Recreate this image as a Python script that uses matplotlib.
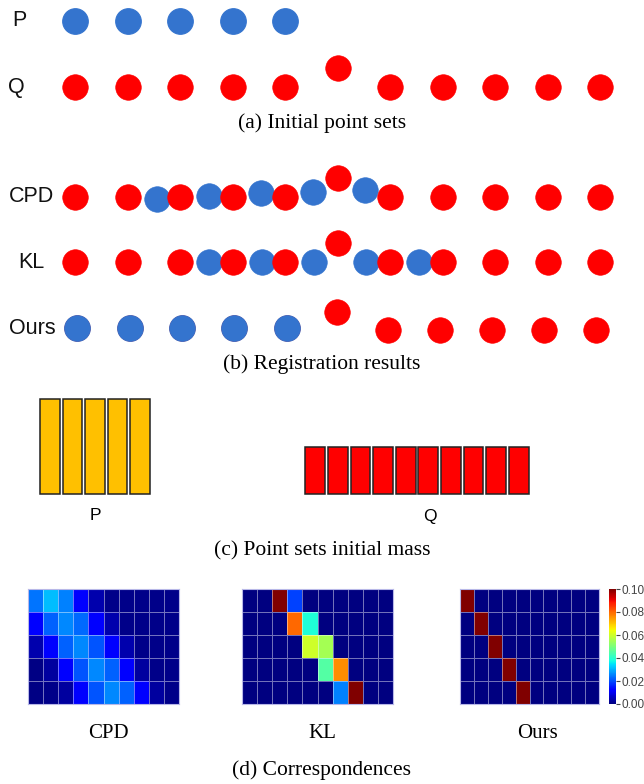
import numpy as np
import matplotlib
matplotlib.use("Agg")
import matplotlib.pyplot as plt

# ---------------- data ----------------
# (a) initial point sets (x positions in units of Q spacing, dy = vertical offset)
p_init_x = [0, 1, 2, 3, 4]
q_init_x = [0, 1, 2, 3, 4, 5, 6, 7, 8, 9, 10]
q_init_dy = [0, 0, 0, 0, 0, 0.36, 0, 0, 0, 0, 0]

# (b) registration results: positions of P (blue) after registration
cpd_p_x = [1.57, 2.55, 3.54, 4.53, 5.52]
cpd_p_dy = [-0.04, 0.02, 0.08, 0.10, 0.13]
kl_p_x = [2.55, 3.56, 4.55, 5.54, 6.55]
kl_p_dy = [0, 0, 0, 0, 0]
ours_p_x = [0.04, 1.05, 2.04, 3.03, 4.04]
ours_p_dy = [0, 0, 0, 0, 0]
ours_q_x = [0.04, 1.05, 2.04, 3.03, 4.04, 4.99, 5.96, 6.95, 7.95, 8.94, 9.93]
ours_q_dy = [0, 0, 0, 0, 0, 0.30, -0.04, -0.04, -0.04, -0.04, -0.04]

row_labels = ["P", "Q", "CPD", "KL", "Ours"]

# (c) initial masses
p_mass = [0.2, 0.2, 0.2, 0.2, 0.2]
q_mass = [0.1] * 10

# (d) correspondence matrices (5 x 10)
cpd_corr = [
    [0.024, 0.031, 0.025, 0.012, 0.004, 0.001, 0.001, 0.001, 0.001, 0.001],
    [0.011, 0.022, 0.026, 0.023, 0.012, 0.004, 0.001, 0.001, 0.001, 0.001],
    [0.004, 0.012, 0.022, 0.026, 0.021, 0.012, 0.004, 0.001, 0.001, 0.001],
    [0.0005, 0.003, 0.012, 0.021, 0.026, 0.022, 0.012, 0.003, 0.001, 0.001],
    [0.0005, 0.001, 0.003, 0.012, 0.021, 0.026, 0.022, 0.012, 0.003, 0.001],
]
kl_corr = [
    [0, 0, 0.100, 0.019, 0, 0, 0, 0, 0, 0],
    [0, 0, 0, 0.080, 0.039, 0, 0, 0, 0, 0],
    [0, 0, 0, 0, 0.060, 0.055, 0, 0, 0, 0],
    [0, 0, 0, 0, 0, 0.045, 0.076, 0, 0, 0],
    [0, 0, 0, 0, 0, 0, 0.025, 0.100, 0, 0],
]
ours_corr = [
    [0.1, 0, 0, 0, 0, 0, 0, 0, 0, 0],
    [0, 0.1, 0, 0, 0, 0, 0, 0, 0, 0],
    [0, 0, 0.1, 0, 0, 0, 0, 0, 0, 0],
    [0, 0, 0, 0.1, 0, 0, 0, 0, 0, 0],
    [0, 0, 0, 0, 0.1, 0, 0, 0, 0, 0],
]
corr_names = ["CPD", "KL", "Ours"]
cbar_ticks = [0.00, 0.02, 0.04, 0.06, 0.08, 0.10]

captions = ["(a) Initial point sets", "(b) Registration results",
            "(c) Point sets initial mass", "(d) Correspondences"]

# ---------------- style ----------------
W, H = 644, 784
BLUE = "#3474CE"
RED = "#FF0000"
YEL = "#FFC000"
SANS = ["Liberation Sans", "DejaVu Sans"]
SERIF = ["Liberation Serif", "DejaVu Serif"]

fig = plt.figure(figsize=(W / 100, H / 100), dpi=100)


def box(x0, y0, x1, y1):
    return [x0 / W, 1 - y1 / H, (x1 - x0) / W, (y1 - y0) / H]


# ---------------- points (a) + (b) ----------------
unit = 52.5
x0px = 75
ax = fig.add_axes(box(0, 0, W, 350))
ax.set_xlim(-x0px / unit, (W - x0px) / unit)
ax.set_ylim(0.4 - 350 / unit, 0.4)
ax.axis("off")

row_y = {"P": 0.0, "Q": -66 / unit, "CPD": -176 / unit, "KL": -241 / unit, "Ours": -307 / unit}
label_x = {"P": 19, "Q": 16, "CPD": 31, "KL": 31, "Ours": 32}
S = 340


def draw_row(name, qx, qdy, px, pdy, red_on_top=False):
    y = row_y[name]
    zq, zp = (4, 3) if red_on_top else (2, 3)
    if qx is not None:
        ax.scatter(qx, [y + d for d in qdy], s=S, c=RED, edgecolors=RED,
                   linewidths=0.4, zorder=zq)
    if px is not None:
        ax.scatter(px, [y + d for d in pdy], s=S, c=BLUE, edgecolors=BLUE,
                   linewidths=0.8 if not red_on_top else 0.4, zorder=zp)


draw_row("P", None, None, p_init_x, [0] * len(p_init_x))
draw_row("Q", q_init_x, q_init_dy, None, None)
draw_row("CPD", q_init_x, q_init_dy, cpd_p_x, cpd_p_dy, red_on_top=True)
draw_row("KL", q_init_x, q_init_dy, kl_p_x, kl_p_dy, red_on_top=True)
draw_row("Ours", ours_q_x, ours_q_dy, ours_p_x, ours_p_dy)

for name in row_labels:
    ax.text((label_x[name] - x0px) / unit, row_y[name], name, ha="center", va="center",
            fontsize=15.5, family=SANS, color="#111111")

# ---------------- bars (c) ----------------
axp = fig.add_axes(box(39, 399, 151, 494))
axq = fig.add_axes(box(304, 399, 530, 494))
for a, m, col in [(axp, p_mass, YEL), (axq, q_mass, RED)]:
    bars = a.bar(range(len(m)), m, width=0.88, color=col, edgecolor="#222222", linewidth=1.1)
    for b in bars:
        b.set_clip_on(False)
    a.set_xlim(-0.5, len(m) - 0.5)
    a.set_ylim(0, 0.2)
    a.axis("off")
fig.text(95 / W, 1 - 515 / H, "P", ha="center", va="center", fontsize=12.5, family=SANS)
fig.text(430 / W, 1 - 517 / H, "Q", ha="center", va="center", fontsize=12.5, family=SANS)

# ---------------- heatmaps (d) ----------------
hm_boxes = [(28, 589, 179, 704), (242, 589, 393, 704), (460, 589, 599, 704)]
hm_label_x = [108, 322, 537]
im = None
for mat, name, bx, lx in zip([cpd_corr, kl_corr, ours_corr], corr_names, hm_boxes, hm_label_x):
    a = fig.add_axes(box(*bx))
    arr = np.array(mat)
    im = a.pcolormesh(arr, cmap="jet", vmin=0, vmax=0.1,
                      edgecolors=(1, 1, 1, 0.45), linewidth=0.7)
    a.set_xlim(0, arr.shape[1])
    a.set_ylim(arr.shape[0], 0)
    a.set_xticks([])
    a.set_yticks([])
    for sp in a.spines.values():
        sp.set_color("#b8b8e8")
        sp.set_linewidth(0.8)
    fig.text(lx / W, 1 - 734 / H, name, ha="center", va="center", fontsize=15, family=SERIF)

cax = fig.add_axes(box(609, 589, 616, 704))
cb = fig.colorbar(im, cax=cax, ticks=cbar_ticks)
cb.outline.set_linewidth(0)
cb.ax.set_yticklabels([f"{t:.2f}" for t in cbar_ticks], family=SANS, fontsize=8.5, color="#444444")
cb.ax.tick_params(length=3, width=0.8, color="#444444", pad=1)

# ---------------- captions ----------------
for cap, y in zip(captions, [123, 364, 551, 770]):
    fig.text(322 / W, 1 - y / H, cap, ha="center", va="center", fontsize=15.5, family=SERIF)

fig.savefig("out.png", dpi=100)
